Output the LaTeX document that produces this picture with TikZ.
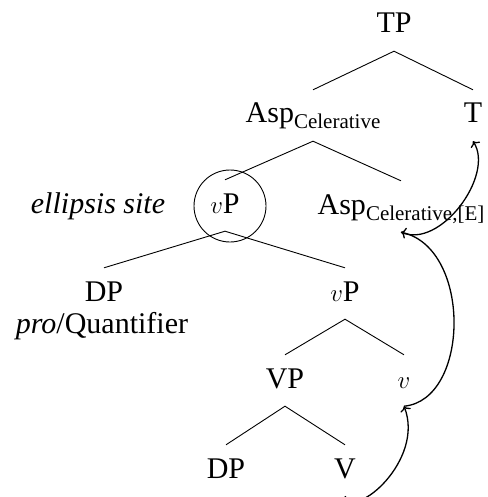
\documentclass[tikz,border=0pt]{standalone}
\usepackage{fontspec}
\setmainfont{Liberation Serif}
\usetikzlibrary{arrows.meta}

% lowered, smaller subscript set in roman text
\newcommand\lsub[1]{\raisebox{-6pt}{\fontsize{21}{21}\selectfont #1}}

\begin{document}
\begin{tikzpicture}[x=1pt, y=-1pt,
  lbl/.style={anchor=base, inner xsep=2pt, inner ysep=13pt,
              text height=20pt, text depth=5pt,
              font=\fontsize{30}{32}\selectfont},
  branch/.style={line width=0.9pt},
  move/.style={line width=1.3pt, -{To[length=5pt,width=11pt]}},
]
\useasboundingbox (0,0) rectangle (487,497);

% tree nodes
\node[lbl] (TP)   at (394,33)  {TP};
\node[lbl] (AspC) at (313,123) {Asp\lsub{Celerative}};
\node[lbl] (T)    at (473,123) {T};
\node[lbl] (vPe)  at (225,213) {$v$P};
\node[lbl] (site) at (98,213)  {\itshape ellipsis site};
\node[lbl] (AspE) at (401,214) {Asp\lsub{Celerative,[E]}};
\node[lbl] (DPa)  at (104,301) {DP};
\node[lbl] (proq) at (102,333) {\textit{pro}/Quantifier};
\node[lbl] (vPb)  at (345,301) {$v$P};
\node[lbl] (VP)   at (285,388) {VP};
\node[lbl] (v)    at (404,388) {$v$};
\node[lbl] (DPb)  at (226,478) {DP};
\node[lbl] (V)    at (345,478) {V};

% circle marking the ellipsis site
\node[draw, circle, line width=0.9pt, minimum size=72pt, inner sep=0pt]
  (ring) at (230,206) {};

% branches
\draw[branch] (AspC.north) -- (TP.south) -- (T.north);
\draw[branch] (vPe.north) -- (AspC.south) -- (AspE.north);
\draw[branch] (DPa.north) -- (vPe.south) -- (vPb.north);
\draw[branch] (VP.north) -- (vPb.south) -- (v.north);
\draw[branch] (DPb.north) -- (VP.south) -- (V.north);

% head movement
\draw[move] (V.south) .. controls (355,520) and (425,460) .. (v.south);
\draw[move] (v.south) .. controls (470,400) and (472,248) .. (AspE.south);
\draw[move] (AspE.south) .. controls (440,250) and (495,175) .. (T.south);
\end{tikzpicture}
\end{document}
